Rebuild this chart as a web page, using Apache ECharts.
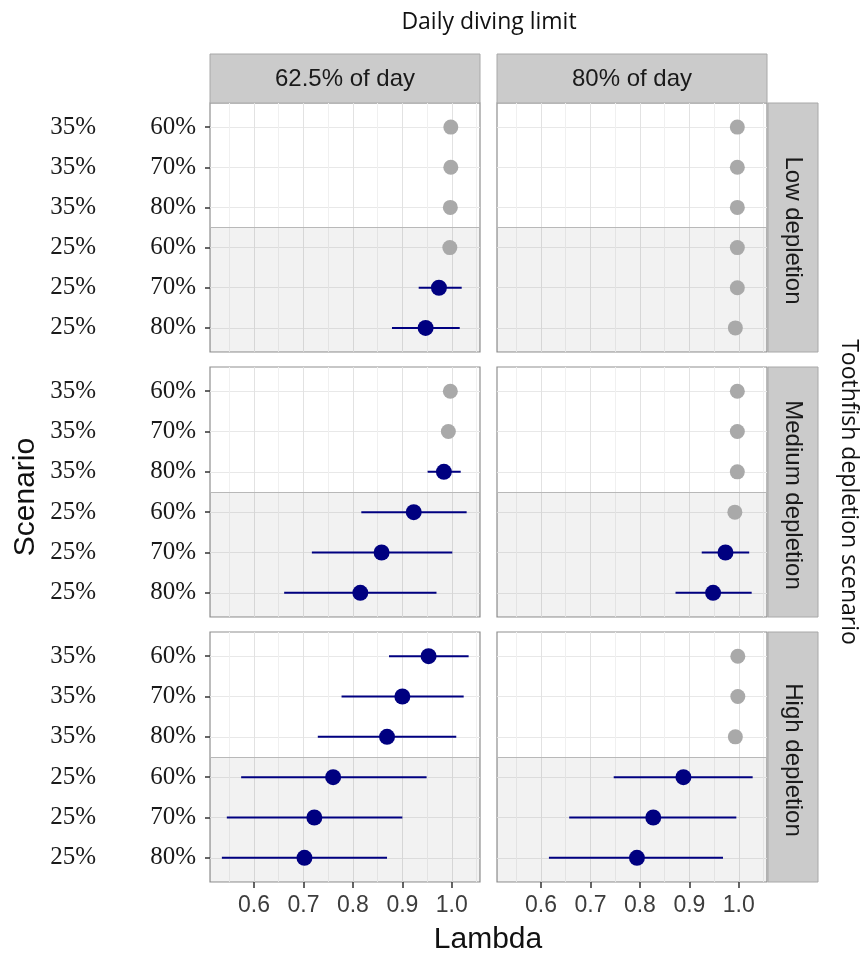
<!DOCTYPE html>
<html><head><meta charset="utf-8">
<script src="https://cdn.jsdelivr.net/npm/echarts@6/dist/echarts.min.js"></script>
<style>html,body{margin:0;padding:0;background:#fff}#c{width:867px;height:962px}</style>
</head><body><div id="c"></div>
<script>
// ---- categories / tick labels ----
const rateLabels = ['35%','35%','35%','25%','25%','25%'];
const limitLabels = ['60%','70%','80%','60%','70%','80%'];
const depletionLevels = ['Low depletion','Medium depletion','High depletion'];
const divingLimits = ['62.5% of day','80% of day'];
const xTicks = [0.6,0.7,0.8,0.9,1.0];
const xMinorTicks = [0.55,0.65,0.75,0.85,0.95,1.05];
const rowIdx = [0,1,2,3,4,5];

// ---- values: lambda estimate and interval (null = no interval, grey point) ----
const lowShortLambda = [0.998,0.998,0.997,0.996,0.974,0.947];
const lowShortLower  = [null,null,null,null,0.933,0.879];
const lowShortUpper  = [null,null,null,null,1.020,1.016];

const lowLongLambda = [0.997,0.997,0.997,0.997,0.997,0.993];
const lowLongLower  = [null,null,null,null,null,null];
const lowLongUpper  = [null,null,null,null,null,null];

const medShortLambda = [0.997,0.993,0.984,0.923,0.858,0.815];
const medShortLower  = [null,null,0.951,0.817,0.717,0.661];
const medShortUpper  = [null,null,1.018,1.030,1.001,0.969];

const medLongLambda = [0.997,0.997,0.997,0.992,0.973,0.948];
const medLongLower  = [null,null,null,null,0.925,0.872];
const medLongUpper  = [null,null,null,null,1.021,1.026];

const highShortLambda = [0.953,0.900,0.869,0.760,0.722,0.702];
const highShortLower  = [0.873,0.777,0.729,0.574,0.545,0.535];
const highShortUpper  = [1.034,1.024,1.009,0.949,0.900,0.869];

const highLongLambda = [0.998,0.998,0.993,0.888,0.827,0.794];
const highLongLower  = [null,null,null,0.747,0.657,0.616];
const highLongUpper  = [null,null,null,1.028,0.995,0.968];

const panels = [
  [lowShortLambda, lowShortLower, lowShortUpper],
  [lowLongLambda, lowLongLower, lowLongUpper],
  [medShortLambda, medShortLower, medShortUpper],
  [medLongLambda, medLongLower, medLongUpper],
  [highShortLambda, highShortLower, highShortUpper],
  [highLongLambda, highLongLower, highLongUpper]
];

// ---- layout ----
const X_MIN = 0.511, X_MAX = 1.057;
const colLeft = [210, 497], colW = 270;
const rowTop = [103, 367, 632], rowH = [249, 250, 250];
const NAVY = '#000080', GREY = '#a9a9a9';

const grids = [], xAxes = [], yAxes = [], series = [];
let xi = 0;
for (let r = 0; r < 3; r++) {
  for (let c = 0; c < 2; c++) {
    const g = grids.length;
    grids.push({left: colLeft[c], top: rowTop[r], width: colW, height: rowH[r],
      show: true, backgroundColor: '#ffffff', borderColor: '#8f8f8f', borderWidth: 1.2, containLabel: false});
    const bottom = (r === 2);
    // main x axis
    xAxes.push({type: 'value', gridIndex: g, min: X_MIN, max: X_MAX, position: 'bottom',
      axisLine: {show: false, onZero: false},
      axisTick: {show: bottom, length: 6, customValues: xTicks, lineStyle: {color: '#333', width: 1.5}},
      axisLabel: {show: bottom, customValues: xTicks, margin: 12, color: '#3d3d3d', fontSize: 23,
        fontFamily: 'Liberation Sans, Arial, sans-serif', formatter: v => v.toFixed(1)},
      splitLine: {show: true, lineStyle: {color: '#e2e2e2', width: 1}}
    });
    const mainX = xi++;
    // minor gridline axis
    xAxes.push({type: 'value', gridIndex: g, min: X_MIN, max: X_MAX, position: 'top',
      axisLine: {show: false, onZero: false},
      axisTick: {show: false, customValues: xMinorTicks},
      axisLabel: {show: false, customValues: xMinorTicks},
      splitLine: {show: true, lineStyle: {color: '#f0f0f0', width: 1}}
    });
    xi++;
    const left = (c === 0);
    yAxes.push({type: 'value', gridIndex: g, min: -0.6, max: 5.6, inverse: true,
      axisLine: {show: false, onZero: false},
      axisTick: {show: left, length: 5, customValues: rowIdx, lineStyle: {color: '#333', width: 1.5}},
      axisLabel: {show: left, customValues: rowIdx, margin: 14,
        formatter: v => '{a|' + rateLabels[v] + '}{b|' + limitLabels[v] + '}',
        rich: {
          a: {width: 50, align: 'right', fontSize: 25, color: '#1a1a1a', fontFamily: 'Liberation Serif, Times New Roman, serif'},
          b: {width: 100, align: 'right', fontSize: 25, color: '#1a1a1a', fontFamily: 'Liberation Serif, Times New Roman, serif'}
        }},
      splitLine: {show: true, lineStyle: {color: '#e8e8e8', width: 1}}
    });
    const [lam, lo, hi] = panels[g];
    const greyPts = [], navyPts = [], bars = [];
    rowIdx.forEach(i => {
      if (lo[i] === null) greyPts.push([lam[i], i]);
      else { navyPts.push([lam[i], i]); bars.push([lo[i], hi[i], i]); }
    });
    series.push({type: 'custom', xAxisIndex: mainX, yAxisIndex: g, data: bars,
      encode: {x: [0, 1], y: 2}, silent: true,
      renderItem: (params, api) => {
        const y = api.value(2);
        const p1 = api.coord([api.value(0), y]);
        const p2 = api.coord([api.value(1), y]);
        return {type: 'line', shape: {x1: p1[0], y1: p1[1], x2: p2[0], y2: p2[1]},
          style: {stroke: NAVY, lineWidth: 2}};
      },
      markArea: {silent: true, itemStyle: {color: 'rgba(0,0,0,0.05)'},
        data: [[{xAxis: X_MIN, yAxis: 2.5}, {xAxis: X_MAX, yAxis: 5.6}]]},
      markLine: {silent: true, symbol: 'none', label: {show: false},
        lineStyle: {color: '#b8b8b8', width: 1, type: 'solid'}, data: [{yAxis: 2.5}]}
    });
    series.push({type: 'scatter', xAxisIndex: mainX, yAxisIndex: g, data: greyPts,
      symbolSize: 15, itemStyle: {color: GREY, opacity: 1}, silent: true, z: 3});
    series.push({type: 'scatter', xAxisIndex: mainX, yAxisIndex: g, data: navyPts,
      symbolSize: 16, itemStyle: {color: NAVY, opacity: 1}, silent: true, z: 4});
  }
}

// ---- strips & titles ----
const graphic = [];
const stripFill = '#cbcbcb', stripStroke = '#a8a8a8';
const stripFont = '24px "Liberation Sans", Arial, sans-serif';
divingLimits.forEach((t, c) => {
  graphic.push({type: 'rect', shape: {x: colLeft[c], y: 54, width: colW, height: 49},
    style: {fill: stripFill, stroke: stripStroke, lineWidth: 1}, silent: true});
  graphic.push({type: 'text', x: colLeft[c] + colW / 2, y: 79,
    style: {text: t, font: stripFont, fill: '#1a1a1a', textAlign: 'center', textVerticalAlign: 'middle'}, silent: true});
});
depletionLevels.forEach((t, r) => {
  graphic.push({type: 'rect', shape: {x: 768, y: rowTop[r], width: 50, height: rowH[r]},
    style: {fill: stripFill, stroke: stripStroke, lineWidth: 1}, silent: true});
  graphic.push({type: 'text', x: 793, y: rowTop[r] + rowH[r] / 2 + 3, rotation: -Math.PI / 2,
    style: {text: t, font: stripFont, fill: '#1a1a1a', textAlign: 'center', textVerticalAlign: 'middle'}, silent: true});
});
graphic.push({type: 'text', x: 489, y: 22,
  style: {text: 'Daily diving limit', font: '23px "Open Sans", "Liberation Sans", sans-serif', fill: '#111', textAlign: 'center', textVerticalAlign: 'middle'}, silent: true});
graphic.push({type: 'text', x: 849, y: 492, rotation: -Math.PI / 2,
  style: {text: 'Toothfish depletion scenario', font: '23px "Open Sans", "Liberation Sans", sans-serif', fill: '#111', textAlign: 'center', textVerticalAlign: 'middle'}, silent: true});
graphic.push({type: 'text', x: 26, y: 497, rotation: Math.PI / 2,
  style: {text: 'Scenario', font: '30px "Liberation Sans", Arial, sans-serif', fill: '#111', textAlign: 'center', textVerticalAlign: 'middle'}, silent: true});
graphic.push({type: 'text', x: 488, y: 940,
  style: {text: 'Lambda', font: '30px "Liberation Sans", Arial, sans-serif', fill: '#111', textAlign: 'center', textVerticalAlign: 'middle'}, silent: true});

const chart = echarts.init(document.getElementById('c'), null, {renderer: 'canvas'});
chart.setOption({animation: false, backgroundColor: '#ffffff', grid: grids, xAxis: xAxes, yAxis: yAxes, series: series, graphic: graphic});
</script></body></html>
